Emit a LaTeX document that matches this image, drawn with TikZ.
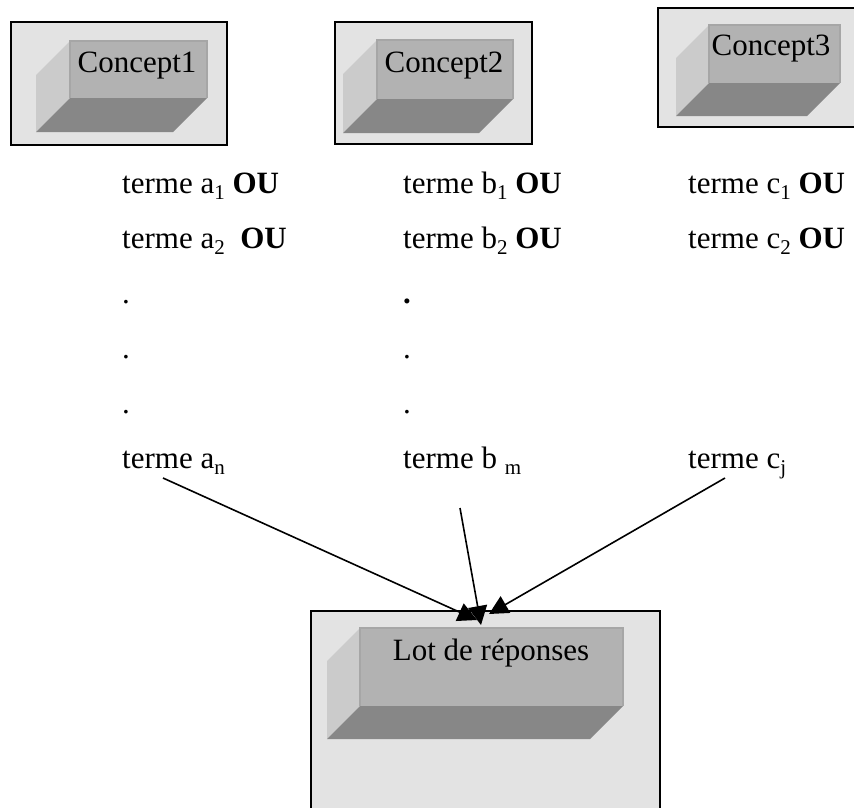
\documentclass[tikz,border=0pt]{standalone}
\usepackage{fontspec}
\setmainfont{Liberation Serif}
\usetikzlibrary{arrows.meta}

\definecolor{panel}{HTML}{E3E3E3}
\definecolor{facefront}{HTML}{B2B2B2}
\definecolor{faceedge}{HTML}{A6A6A6}
\definecolor{faceside}{HTML}{CBCBCB}
\definecolor{facebottom}{HTML}{878787}

% subscript in text size
\newcommand\subx[1]{\raisebox{-6pt}{\fontsize{21}{21}\selectfont #1}}

% bevelled slab: front face (x1,y1)-(x2,y2), depth d towards lower left
\newcommand\slab[5]{%
  \fill[faceside] (#1,#2) -- (#1-#5,#2+#5) -- (#1-#5,#4+#5) -- (#1,#4) -- cycle;
  \fill[facebottom] (#1,#4) -- (#3,#4) -- (#3-#5,#4+#5) -- (#1-#5,#4+#5) -- cycle;
  \fill[facefront] (#1,#2) rectangle (#3,#4);
  \draw[faceedge, line width=1.2pt] (#1,#4) -- (#1,#2) -- (#3,#2) -- (#3,#4);
}

\tikzset{
  panelbox/.style={fill=panel, draw=black, line width=1.8pt},
  term/.style={anchor=base west, inner sep=0pt},
  caption/.style={anchor=base, inner sep=0pt},
  conn/.style={line width=1.6pt, -{Triangle[length=19pt,width=19pt]}},
}

\begin{document}
\begin{tikzpicture}[x=1pt, y=-1pt, font=\fontsize{31}{36}\selectfont]
  \useasboundingbox (0,0) rectangle (854,807);
  \clip (0,0) rectangle (854,807);

  % concept panels
  \draw[panelbox] (11,22) rectangle (227,145);
  \slab{70}{41}{207}{98}{34}
  \node[caption] (concept1) at (137,72) {Concept1};

  \draw[panelbox] (335,22) rectangle (532,144);
  \slab{377}{40}{513}{99}{34}
  \node[caption] (concept2) at (444,72) {Concept2};

  \draw[panelbox] (658,8) rectangle (870,127);
  \slab{709}{25}{840}{83}{33}
  \node[caption] (concept3) at (771,55) {Concept3};

  % result panel
  \draw[panelbox] (311,611) rectangle (660,810);
  \slab{360}{628}{623}{706}{33}
  \node[caption] (lot) at (491,660) {Lot de réponses};

  % terms of concept 1
  \node[term] (a1) at (122,193) {terme a\subx{1} \textbf{OU}};
  \node[term] (a2) at (122,248) {terme a\subx{2}\ \ \textbf{OU}};
  \node[term] (ad1) at (122,303) {.};
  \node[term] (ad2) at (122,358) {.};
  \node[term] (ad3) at (122,413) {.};
  \node[term] (an) at (122,468) {terme a\subx{n}};

  % terms of concept 2
  \node[term] (b1) at (403,193) {terme b\subx{1} \textbf{OU}};
  \node[term] (b2) at (403,248) {terme b\subx{2} \textbf{OU}};
  \node[term] (bd1) at (403,303) {\textbf{.}};
  \node[term] (bd2) at (403,358) {.};
  \node[term] (bd3) at (403,413) {.};
  \node[term] (bm) at (403,468) {terme b \subx{m}};

  % terms of concept 3
  \node[term] (c1) at (688,193) {terme c\subx{1} \textbf{OU}};
  \node[term] (c2) at (688,248) {terme c\subx{2} \textbf{OU}};
  \node[term] (cj) at (688,468) {terme c\subx{j}};

  % connector ends
  \coordinate (an-out) at (163,478);
  \coordinate (bm-out) at (460,508);
  \coordinate (cj-out) at (725,478);
  \coordinate (lot-in-a) at (477,620);
  \coordinate (lot-in-b) at (481,625);
  \coordinate (lot-in-c) at (489,614);

  \draw[conn] (an-out) -- (lot-in-a);
  \draw[conn] (bm-out) -- (lot-in-b);
  \draw[conn] (cj-out) -- (lot-in-c);
\end{tikzpicture}
\end{document}
